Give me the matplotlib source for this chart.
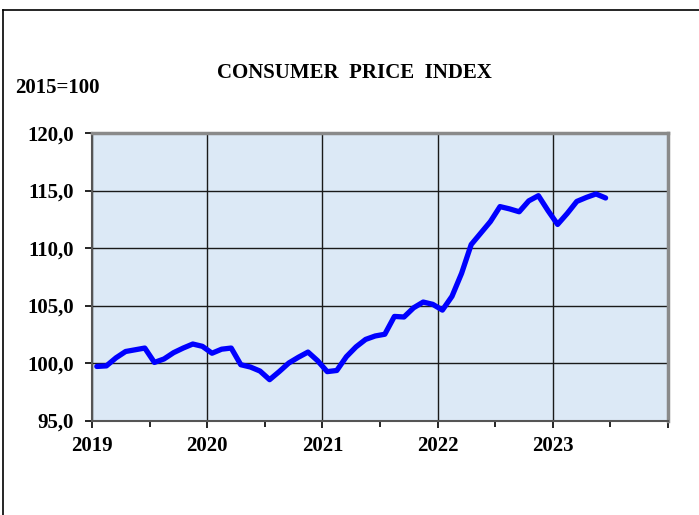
import matplotlib
matplotlib.use("Agg")
import matplotlib.pyplot as plt
from matplotlib.lines import Line2D
import numpy as np

title = "CONSUMER  PRICE  INDEX"
unit_label = "2015=100"
start_year = 2019
cpi = [
    99.7, 99.75, 100.45, 101.0, 101.15, 101.3, 100.05, 100.35, 100.9, 101.3, 101.65, 101.45,
    100.85, 101.2, 101.3, 99.85, 99.65, 99.3, 98.55, 99.25, 100.0, 100.5, 100.95, 100.2,
    99.25, 99.35, 100.55, 101.4, 102.05, 102.35, 102.5, 104.05, 104.0, 104.8, 105.3, 105.1,
    104.6, 105.8, 107.8, 110.3, 111.3, 112.3, 113.6, 113.4, 113.15, 114.1, 114.55, 113.25,
    112.05, 113.0, 114.05, 114.4, 114.7, 114.35,
]
x_ticks = [2019, 2020, 2021, 2022, 2023, 2024]
x_tick_labels = ["2019", "2020", "2021", "2022", "2023", ""]
y_ticks = [95, 100, 105, 110, 115, 120]
y_tick_labels = ["95,0", "100,0", "105,0", "110,0", "115,0", "120,0"]

plt.rcParams["font.family"] = ["Liberation Serif", "DejaVu Serif"]
plt.rcParams["font.weight"] = "bold"

fig = plt.figure(figsize=(6.99, 5.15), dpi=100)
W, H = 699, 515
ax = fig.add_axes([92 / W, 1 - 420.5 / H, (668 - 92) / W, (420.5 - 133) / H])

months = np.arange(len(cpi))
xs = start_year + (months + 0.5) / 12.0
ax.set_facecolor("#dce9f6")
ax.plot(xs, cpi, color="#0000ff", linewidth=3.8, solid_joinstyle="round",
        solid_capstyle="round", zorder=3)

ax.set_xlim(2019, 2024)
ax.set_ylim(95, 120)
ax.set_xticks(x_ticks)
ax.set_xticklabels(x_tick_labels)
ax.set_xticks([2019.5, 2020.5, 2021.5, 2022.5, 2023.5], minor=True)
ax.set_yticks(y_ticks)
ax.set_yticklabels(y_tick_labels)
ax.grid(True, which="major", color="#1a1a1a", linewidth=1.0, zorder=1)
ax.tick_params(axis="both", which="major", direction="out", length=5, width=1.2,
               color="black", labelsize=15)
ax.tick_params(axis="y", which="major", pad=8)
ax.tick_params(axis="x", which="major", pad=6)
ax.tick_params(axis="x", which="minor", direction="out", length=4, width=1.2, color="black")
for lab in ax.get_xticklabels() + ax.get_yticklabels():
    lab.set_fontweight("bold")

for side in ["top", "right"]:
    ax.spines[side].set_color("#8a8a8a")
    ax.spines[side].set_linewidth(2.5)
for side in ["left", "bottom"]:
    ax.spines[side].set_color("#555555")
    ax.spines[side].set_linewidth(1.5)

fig.text(354 / W, 1 - 73 / H, title, ha="center", va="center", fontsize=15, fontweight="bold")
fig.text(15 / W, 1 - 88 / H, unit_label, ha="left", va="center", fontsize=15, fontweight="bold")

fig.add_artist(Line2D([3 / W, 3 / W], [0, 1 - 10 / H], color="black", linewidth=1.2,
                      transform=fig.transFigure))
fig.add_artist(Line2D([3 / W, 1], [1 - 10 / H, 1 - 10 / H], color="black", linewidth=1.2,
                      transform=fig.transFigure))

fig.savefig("out.png", dpi=100)
